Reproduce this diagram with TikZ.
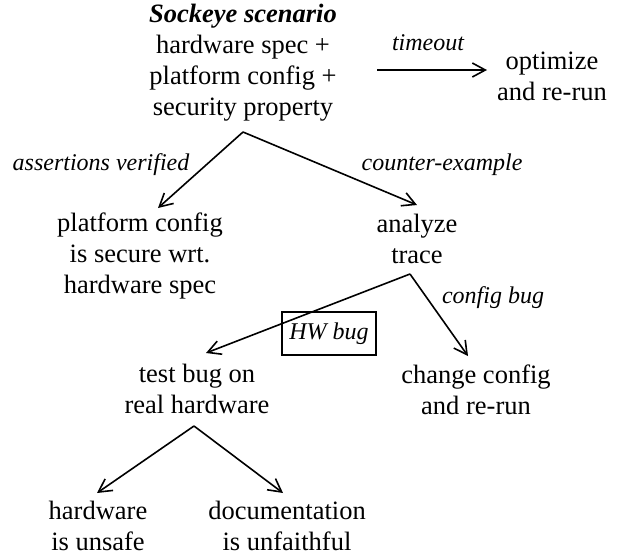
\documentclass[tikz,border=0pt]{standalone}
\usepackage{fontspec}
\setmainfont{Liberation Serif}
\usetikzlibrary{arrows.meta}
\begin{document}
\begin{tikzpicture}[x=1pt,y=1pt,
  txt/.style={align=center,inner sep=0pt,anchor=base,font=\fontsize{26.5}{31}\selectfont},
  lbl/.style={inner sep=0pt,anchor=base,font=\fontsize{24}{28}\selectfont\itshape},
  arr/.style={line width=1.6pt,-{Straight Barb[length=13pt,width=14pt,line width=1.6pt]}}]
\useasboundingbox (0,0) rectangle (618,-558);
% nodes (base anchor = baseline of last line)
\node[txt] (top) at (243,-115) {\textbf{\textit{Sockeye scenario}}\\hardware spec +\\platform config +\\security property};
\node[txt] (opt) at (552,-100) {optimize\\and re-run};
\node[txt] (pc) at (140,-293) {platform config\\is secure wrt.\\hardware spec};
\node[txt] (an) at (417,-263) {analyze\\trace};
\node[txt] (tb) at (197,-413) {test bug on\\real hardware};
\node[txt] (cc) at (476,-414) {change config\\and re-run};
\node[txt] (hu) at (98,-550) {hardware\\is unsafe};
\node[txt] (du) at (287,-550) {documentation\\is unfaithful};
% labels
\node[lbl] (ltimeout) at (428,-50) {timeout};
\node[lbl] (lassert) at (101,-170) {assertions verified};
\node[lbl] (lcounter) at (442,-170) {counter-example};
\node[lbl] (lconfig) at (493,-303) {config bug};
\node[draw,line width=1.6pt,minimum width=94pt,minimum height=43pt,inner sep=0pt,font=\fontsize{24}{28}\selectfont\itshape] (lhw) at (329,-333.5) {HW bug};
% branch points
\coordinate (a1) at ([shift={(0,-17)}]top.base);
\coordinate (a2) at ([shift={(-7,-11)}]an.base);
\coordinate (a3) at ([shift={(-3,-13)}]tb.base);
\coordinate (s0) at (377,-70);
% connectors
\draw[arr] (s0) -- ([shift={(-65,30)}]opt.base);
\draw[arr] (a1) -- ([shift={(18,85)}]pc.base);
\draw[arr] (a1) -- ([shift={(0,58)}]an.base);
\draw[arr] (a2) -- ([shift={(9,60)}]tb.base);
\draw[arr] (a2) -- ([shift={(-8,58)}]cc.base);
\draw[arr] (a3) -- ([shift={(-1,57)}]hu.base);
\draw[arr] (a3) -- ([shift={(-4,57)}]du.base);
\end{tikzpicture}
\end{document}
